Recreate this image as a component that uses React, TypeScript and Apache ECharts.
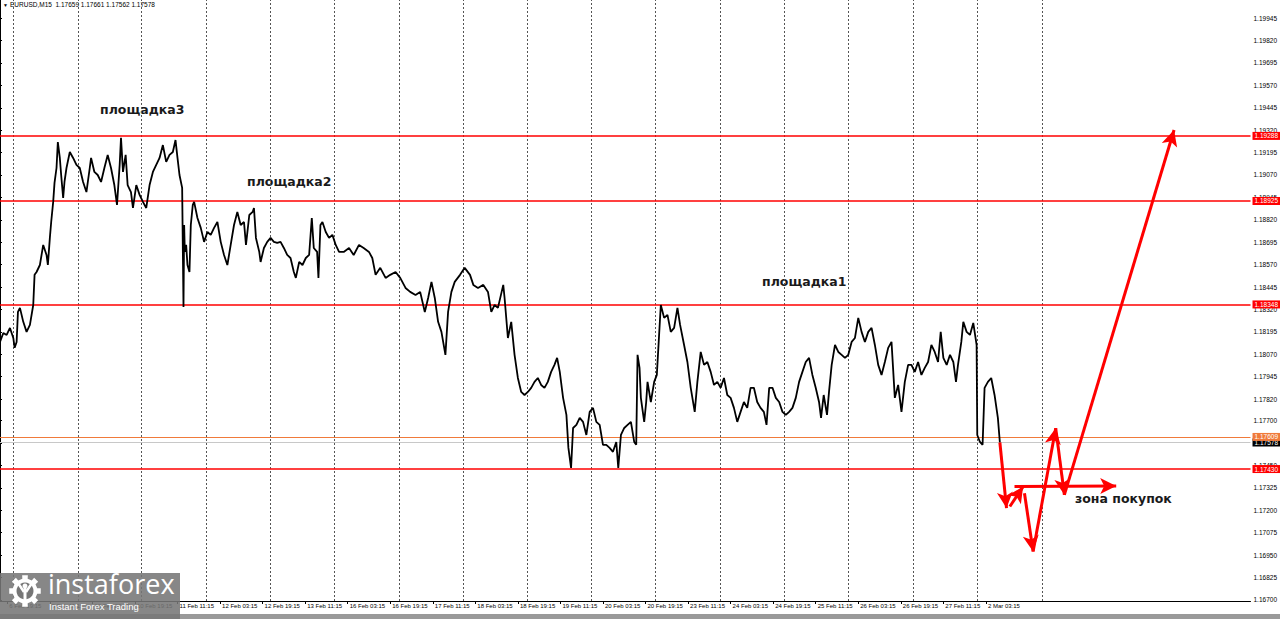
import { useEffect, useRef } from "react";
import * as echarts from "echarts";

// M15 bar index -> close price
const pricePoints: [number, number][] = [
  [0, 1.18139], [5, 1.18189], [10, 1.18178], [15, 1.18217], [20, 1.18161], [22, 1.18106], [25, 1.18139], [27, 1.18306], [30, 1.18329], [35, 1.18251],
  [40, 1.18195], [45, 1.18234], [50, 1.18345], [52, 1.18513], [55, 1.18529], [60, 1.18568], [65, 1.1868], [70, 1.18624], [72, 1.18568], [75, 1.18719],
  [77, 1.18808], [80, 1.1892], [82, 1.19026], [85, 1.19109], [87, 1.19254], [90, 1.19165], [92, 1.1907], [95, 1.18942], [97, 1.19031], [100, 1.19109],
  [105, 1.19198], [110, 1.19165], [115, 1.19126], [120, 1.19109], [125, 1.19031], [130, 1.18975], [135, 1.19109], [137, 1.19165], [142, 1.19087], [147, 1.1907],
  [152, 1.19031], [157, 1.19109], [162, 1.19182], [167, 1.19109], [172, 1.19014], [176, 1.18903], [180, 1.19126], [182, 1.19277], [185, 1.19087], [189, 1.19182],
  [192, 1.19014], [197, 1.18975], [200, 1.18886], [205, 1.19014], [210, 1.18959], [215, 1.1892], [220, 1.18886], [225, 1.19014], [230, 1.19087], [235, 1.19126],
  [240, 1.19165], [245, 1.19237], [250, 1.19143], [255, 1.19182], [260, 1.19198], [264, 1.19265], [267, 1.19165], [270, 1.1907], [274, 1.18998], [276, 1.18334],
  [277, 1.18791], [278, 1.18641], [280, 1.1868], [282, 1.18568], [285, 1.18529], [287, 1.18791], [290, 1.18903], [292, 1.1892], [297, 1.1883], [302, 1.18775],
  [307, 1.18697], [312, 1.18752], [317, 1.18736], [322, 1.18775], [327, 1.18808], [332, 1.18697], [337, 1.18624], [342, 1.18568], [347, 1.1868], [352, 1.18791],
  [357, 1.18864], [362, 1.18791], [367, 1.18808], [370, 1.1868], [375, 1.18847], [380, 1.18864], [382, 1.18886], [385, 1.18719], [390, 1.18641], [392, 1.18585],
  [397, 1.18663], [402, 1.18697], [407, 1.18719], [412, 1.18697], [417, 1.18691], [422, 1.18697], [427, 1.18663], [432, 1.18624], [437, 1.18607], [442, 1.18529],
  [445, 1.18496], [450, 1.18585], [455, 1.18568], [460, 1.18607], [465, 1.18624], [469, 1.1883], [472, 1.18663], [477, 1.18641], [479, 1.18496], [482, 1.18791],
  [485, 1.18808], [490, 1.18752], [495, 1.18719], [500, 1.18736], [505, 1.1868], [510, 1.18641], [517, 1.18641], [525, 1.18663], [532, 1.18624], [540, 1.1868],
  [547, 1.18663], [555, 1.18641], [560, 1.18607], [565, 1.18513], [572, 1.18552], [580, 1.18496], [587, 1.18513], [595, 1.18529], [602, 1.18496], [610, 1.1844],
  [617, 1.18418], [625, 1.18401], [632, 1.18418], [639, 1.18306], [644, 1.18384], [649, 1.18474], [654, 1.18384], [659, 1.18251], [664, 1.18195], [670, 1.18067],
  [674, 1.18306], [679, 1.18418], [684, 1.18474], [692, 1.18513], [699, 1.18552], [707, 1.18513], [712, 1.18457], [719, 1.1844], [727, 1.18457], [734, 1.18418],
  [739, 1.18306], [744, 1.18345], [749, 1.18329], [757, 1.18457], [759, 1.18384], [764, 1.18161], [769, 1.18251], [774, 1.18067], [779, 1.17938], [784, 1.1786],
  [789, 1.17843], [794, 1.1786], [799, 1.17883], [804, 1.17916], [809, 1.17938], [814, 1.17899], [819, 1.17883], [824, 1.17916], [829, 1.17972], [834, 1.18011],
  [838, 1.1805], [842, 1.17972], [847, 1.17827], [852, 1.17732], [855, 1.17548], [859, 1.17436], [862, 1.17659], [867, 1.17676], [872, 1.17715], [877, 1.17693],
  [882, 1.1762], [887, 1.17749], [892, 1.17771], [897, 1.17693], [902, 1.17676], [907, 1.17565], [912, 1.17565], [917, 1.17548], [922, 1.17526], [927, 1.17581],
  [930, 1.17436], [934, 1.1762], [939, 1.17659], [944, 1.17676], [949, 1.17693], [954, 1.17581], [957, 1.17565], [959, 1.18067], [962, 1.17994], [964, 1.17827],
  [969, 1.17693], [972, 1.17804], [974, 1.17916], [979, 1.17804], [984, 1.17916], [988, 1.17955], [992, 1.18217], [994, 1.18345], [999, 1.18273], [1004, 1.1829],
  [1009, 1.18195], [1014, 1.18217], [1019, 1.18329], [1023, 1.18234], [1029, 1.18122], [1034, 1.18027], [1039, 1.17883], [1045, 1.17749], [1049, 1.17916], [1054, 1.18083],
  [1059, 1.18011], [1064, 1.18027], [1069, 1.17972], [1074, 1.17899], [1079, 1.17916], [1084, 1.17883], [1089, 1.17938], [1094, 1.17843], [1099, 1.17827], [1104, 1.17771],
  [1109, 1.17693], [1114, 1.17749], [1119, 1.17804], [1124, 1.17771], [1129, 1.17883], [1134, 1.17883], [1139, 1.17804], [1144, 1.17771], [1149, 1.17749], [1153, 1.17676],
  [1157, 1.17883], [1162, 1.17883], [1167, 1.17827], [1172, 1.17804], [1177, 1.17749], [1182, 1.17732], [1187, 1.17749], [1192, 1.17771], [1197, 1.17827], [1202, 1.17916],
  [1207, 1.17972], [1212, 1.18027], [1217, 1.1805], [1222, 1.17955], [1227, 1.17883], [1232, 1.17804], [1235, 1.17715], [1239, 1.17843], [1244, 1.17732], [1247, 1.1786],
  [1251, 1.18011], [1256, 1.18122], [1261, 1.18083], [1266, 1.18067], [1271, 1.1805], [1276, 1.18067], [1281, 1.18139], [1286, 1.18161], [1291, 1.18273], [1296, 1.18195],
  [1301, 1.18139], [1306, 1.18195], [1311, 1.18217], [1316, 1.18122], [1321, 1.18011], [1326, 1.17955], [1331, 1.18027], [1336, 1.18106], [1341, 1.18139], [1346, 1.17827],
  [1351, 1.17899], [1356, 1.17749], [1361, 1.17916], [1366, 1.18011], [1371, 1.18011], [1376, 1.17972], [1381, 1.18027], [1386, 1.17955], [1391, 1.17994], [1396, 1.18027],
  [1401, 1.18122], [1406, 1.18083], [1411, 1.18027], [1415, 1.18195], [1419, 1.1805], [1424, 1.18011], [1429, 1.18067], [1434, 1.18027], [1438, 1.17916], [1441, 1.18011],
  [1446, 1.18139], [1449, 1.18251], [1454, 1.18195], [1459, 1.18178], [1464, 1.18245], [1469, 1.18122], [1470, 1.1762], [1474, 1.17581], [1478, 1.17565], [1481, 1.17883],
  [1486, 1.17916], [1491, 1.17938], [1496, 1.17843], [1501, 1.17715], [1504, 1.17578],
];

const timeLabels = [
  "6 Feb 19:15", "9 Feb 11:15", "10 Feb 03:15", "10 Feb 19:15", "11 Feb 11:15", "12 Feb 03:15",
  "12 Feb 19:15", "13 Feb 11:15", "16 Feb 03:15", "16 Feb 19:15", "17 Feb 11:15", "18 Feb 03:15",
  "18 Feb 19:15", "19 Feb 11:15", "20 Feb 03:15", "20 Feb 19:15", "23 Feb 11:15", "24 Feb 03:15",
  "24 Feb 19:15", "25 Feb 11:15", "26 Feb 03:15", "26 Feb 19:15", "27 Feb 11:15", "2 Mar 03:15",
];
const timeLabelBars = [
  11, 75, 139, 203, 267, 331, 395, 459, 523, 587, 651, 715,
  779, 843, 907, 971, 1035, 1099, 1163, 1227, 1291, 1355, 1419, 1483,
];
const gridBars = [20, 117, 213, 310, 407, 503, 600, 697, 793, 890, 986, 1083, 1180, 1276, 1373, 1470, 1568];

const priceTickLabels = [
  "1.16700", "1.16825", "1.16950", "1.17075", "1.17200", "1.17325", "1.17450", "1.17575", "1.17700",
  "1.17820", "1.17945", "1.18070", "1.18195", "1.18320", "1.18445", "1.18570", "1.18695", "1.18820",
  "1.18945", "1.19070", "1.19195", "1.19320", "1.19445", "1.19570", "1.19695", "1.19820", "1.19945",
];

const levelPrices = [1.19288, 1.18925, 1.18348, 1.1743];
const orangeLevel = 1.17609;
const bidPrice = 1.17578;

const arrowStarts: [number, number][] = [
  [1504, 1.17578], [1519, 1.17221], [1526, 1.17332], [1541, 1.17295], [1554, 1.1697], [1588, 1.17658], [1601, 1.17286],
];
const arrowEnds: [number, number][] = [
  [1514, 1.17212], [1539, 1.17332], [1679, 1.17336], [1554, 1.1697], [1588, 1.17658], [1601, 1.17286], [1766, 1.19321],
];

const titleText = "EURUSD,M15  1.17659 1.17661 1.17562 1.17578";
const noteTexts = ["площадка3", "площадка2", "площадка1", "зона покупок"];

const X_MIN = 0;
const X_MAX = 1881;
const Y_MIN = 1.16694;
const Y_MAX = 1.20046;

function gearPoints(cx: number, cy: number): number[][] {
  const pts: number[][] = [];
  const teeth = 8;
  for (let i = 0; i < teeth * 2; i++) {
    const r = i % 2 === 0 ? 16 : 12.5;
    const a = (i * Math.PI) / teeth;
    const h = Math.PI / teeth / 2.2;
    pts.push([cx + r * Math.cos(a - h), cy + r * Math.sin(a - h)]);
    pts.push([cx + r * Math.cos(a + h), cy + r * Math.sin(a + h)]);
  }
  return pts;
}

export default function App() {
  const ref = useRef<HTMLDivElement>(null);

  useEffect(() => {
    document.body.style.margin = "0";
    const chart = echarts.init(ref.current!, null, { renderer: "svg" });

    const noteStyle = {
      fontFamily: "DejaVu Sans",
      fontWeight: "bold" as const,
      fontSize: 12.5,
      fill: "#1a1a1a",
    };

    const levelLabel = (bg: string, text: string) => ({
      show: true,
      position: "end" as const,
      distance: 2,
      formatter: text,
      backgroundColor: bg,
      color: "#fff",
      fontSize: 6.5,
      fontFamily: "Liberation Sans",
      padding: [1, 2, 0, 2],
    });

    const markData: any[] = [
      ...gridBars.map((b) => ({
        xAxis: b,
        lineStyle: { color: "#555", type: [2, 2], width: 1 },
        label: { show: false },
      })),
      {
        yAxis: bidPrice,
        lineStyle: { color: "#c8c8c8", type: "solid", width: 1 },
        label: levelLabel("#000", bidPrice.toFixed(5)),
      },
      {
        yAxis: orangeLevel,
        lineStyle: { color: "#f07a3a", type: "solid", width: 1 },
        label: levelLabel("#f07a3a", orangeLevel.toFixed(5)),
      },
      ...levelPrices.map((p) => ({
        yAxis: p,
        lineStyle: { color: "#ff0000", type: "solid", width: 1.5 },
        label: levelLabel("#ff0000", p.toFixed(5)),
      })),
    ];

    const arrowData: any[] = arrowStarts.map((s, i) => [
      { coord: s, symbol: "none", lineStyle: { color: "#ff0000", width: 3, type: "solid" }, label: { show: false } },
      { coord: arrowEnds[i], symbol: "arrow", symbolSize: [12, 16], lineStyle: { color: "#ff0000", width: 3, type: "solid" } },
    ]);

    const option: any = {
      animation: false,
      backgroundColor: "#ffffff",
      grid: { left: 0, right: 25, top: 0, bottom: 18, containLabel: false },
      xAxis: {
        type: "value",
        min: X_MIN,
        max: X_MAX,
        splitLine: { show: false },
        axisLine: { show: true, lineStyle: { color: "#000", width: 1 } },
        axisTick: { show: true, customValues: timeLabelBars, length: 3, lineStyle: { color: "#000" } },
        axisLabel: {
          customValues: timeLabelBars,
          formatter: (v: number) => {
            const i = timeLabelBars.indexOf(Math.round(v));
            return i >= 0 ? timeLabels[i] : "";
          },
          align: "left",
          padding: [0, 0, 0, 2],
          margin: 2,
          fontSize: 6,
          fontFamily: "Liberation Sans",
          color: "#000",
        },
      },
      yAxis: {
        type: "value",
        position: "right",
        min: Y_MIN,
        max: Y_MAX,
        splitLine: { show: false },
        axisLine: { show: true, lineStyle: { color: "#000", width: 1 } },
        axisTick: { show: true, customValues: priceTickLabels.map(Number), length: 2, lineStyle: { color: "#000" } },
        axisLabel: {
          customValues: priceTickLabels.map(Number),
          formatter: (v: number) => v.toFixed(5),
          margin: 3,
          fontSize: 6.5,
          fontFamily: "Liberation Sans",
          color: "#000",
        },
      },
      series: [
        {
          type: "line",
          data: pricePoints,
          showSymbol: false,
          symbol: "none",
          lineStyle: { color: "#000", width: 1.8 },
          z: 3,
          markLine: {
            silent: true,
            symbol: ["none", "none"],
            animation: false,
            precision: 6,
            data: markData,
            z: 2,
          },
        },
        {
          type: "line",
          data: [],
          z: 5,
          markLine: {
            silent: true,
            animation: false,
            precision: 6,
            symbol: ["none", "arrow"],
            data: arrowData,
            z: 5,
          },
        },
      ],
      graphic: [
        { type: "text", left: 3, top: 2, style: { text: "▼", fontSize: 5, fill: "#000" } },
        { type: "text", left: 10, top: 1, style: { text: titleText, fontSize: 6.5, fontFamily: "Liberation Sans", fill: "#000" } },
        { type: "text", left: 100, top: 103, style: { text: noteTexts[0], ...noteStyle } },
        { type: "text", left: 247, top: 175, style: { text: noteTexts[1], ...noteStyle } },
        { type: "text", left: 762, top: 275, style: { text: noteTexts[2], ...noteStyle } },
        { type: "text", left: 1075, top: 492, style: { text: noteTexts[3], ...noteStyle } },
        { type: "rect", shape: { x: 0, y: 614, width: 1280, height: 5 }, style: { fill: "#9a9a9a" }, z: 10 },
        { type: "rect", shape: { x: 0, y: 573, width: 180, height: 46 }, style: { fill: "rgba(118,118,118,0.88)" }, z: 11 },
        { type: "polygon", shape: { points: gearPoints(25, 591) }, style: { fill: "#ffffff" }, z: 12 },
        { type: "circle", shape: { cx: 25, cy: 591, r: 8.5 }, style: { fill: "rgb(118,118,118)" }, z: 13 },
        { type: "circle", shape: { cx: 25, cy: 586, r: 2.5 }, style: { fill: "#ffffff" }, z: 14 },
        { type: "line", shape: { x1: 25, y1: 588, x2: 25, y2: 604 }, style: { stroke: "#ffffff", lineWidth: 3 }, z: 14 },
        { type: "line", shape: { x1: 18, y1: 583, x2: 24, y2: 592 }, style: { stroke: "#ffffff", lineWidth: 2.5 }, z: 14 },
        { type: "line", shape: { x1: 32, y1: 583, x2: 26, y2: 592 }, style: { stroke: "#ffffff", lineWidth: 2.5 }, z: 14 },
        { type: "text", left: 48, top: 570, style: { text: "instaforex", fontSize: 27, fontFamily: "Open Sans", fill: "#ffffff" }, z: 12 },
        { type: "text", left: 49, top: 601, style: { text: "Instant Forex Trading", fontSize: 9.5, fontFamily: "Liberation Sans", fill: "#ffffff" }, z: 12 },
      ],
    };

    chart.setOption(option);
    return () => chart.dispose();
  }, []);

  return <div ref={ref} style={{ position: "absolute", left: 0, top: 0, width: 1280, height: 619 }} />;
}
